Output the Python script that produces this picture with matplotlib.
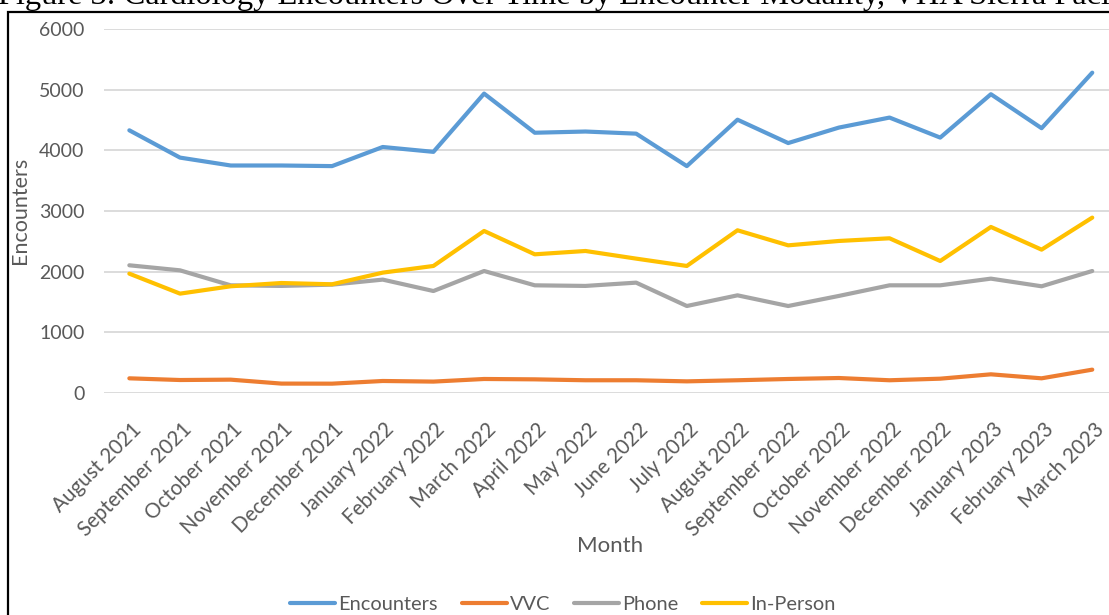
import matplotlib
matplotlib.use("Agg")
import matplotlib.pyplot as plt
from matplotlib.patches import Rectangle
from matplotlib.transforms import ScaledTranslation

# monthly encounter counts
months = ['August 2021', 'September 2021', 'October 2021', 'November 2021',
          'December 2021', 'January 2022', 'February 2022', 'March 2022',
          'April 2022', 'May 2022', 'June 2022', 'July 2022', 'August 2022',
          'September 2022', 'October 2022', 'November 2022', 'December 2022',
          'January 2023', 'February 2023', 'March 2023']
encounters = [4330, 3880, 3750, 3750, 3740, 4055, 3975, 4935, 4290, 4310,
              4275, 3740, 4505, 4120, 4375, 4540, 4210, 4925, 4365, 5280]
vvc = [242, 214, 220, 155, 154, 198, 188, 231, 225, 210,
       210, 192, 210, 231, 247, 210, 236, 308, 242, 385]
phone = [2105, 2022, 1775, 1765, 1786, 1869, 1681, 2011, 1775, 1765,
         1819, 1434, 1610, 1434, 1600, 1775, 1775, 1885, 1759, 2011]
in_person = [1967, 1638, 1759, 1813, 1792, 1984, 2094, 2671, 2286, 2341,
             2215, 2094, 2682, 2434, 2506, 2550, 2176, 2737, 2363, 2891]

series = [encounters, vvc, phone, in_person]
names = ['Encounters', 'VVC', 'Phone', 'In-Person']
colors = ['#5B9BD5', '#ED7D31', '#A5A5A5', '#FFC000']

txt = '#595959'
W, H = 1109, 615
plt.rcParams['font.family'] = ['Lato', 'DejaVu Sans']

fig = plt.figure(figsize=(W / 100, H / 100), dpi=100)
ax = fig.add_axes([104 / W, 222 / H, 1013.6 / W, 364 / H])

x = list(range(len(months)))
for vals, name, col in zip(series, names, colors):
    ax.plot(x, vals, color=col, lw=3.0, label=name, solid_capstyle='round',
            solid_joinstyle='round')

ax.set_xlim(-0.5, len(months) - 0.5)
ax.set_ylim(0, 6000)
ax.set_yticks(range(0, 6001, 1000))
ax.grid(axis='y', color='#D9D9D9', lw=1.3)
ax.set_axisbelow(True)
for s in ax.spines.values():
    s.set_visible(False)
ax.tick_params(axis='both', length=0, labelcolor=txt, labelsize=14)
ax.tick_params(axis='y', pad=14)
ax.tick_params(axis='x', pad=19, labelsize=14.8)
ax.set_xticks(x)
ax.set_xticklabels(months, rotation=45, ha='right', rotation_mode='anchor')
# nudge month labels slightly right, like the original
shift = ScaledTranslation(1.5 / 100, 0, fig.dpi_scale_trans)
for lab in ax.get_xticklabels():
    lab.set_transform(lab.get_transform() + shift)

fig.text(20 / W, 1 - 210 / H, 'Encounters', rotation=90, ha='center',
         va='center', color=txt, fontsize=15.5)
fig.text(610 / W, 1 - 546 / H, 'Month', ha='center', va='center',
         color=txt, fontsize=16)

fig.legend(loc='center', bbox_to_anchor=(563 / W, 1 - 604 / H), ncol=4,
           frameon=False, fontsize=14.4, handlelength=2.25, handletextpad=0.15,
           columnspacing=1.2, labelcolor=txt)

# cropped caption above the chart and the outer frame
fig.text(-2 / W, 1 - 4 / H,
         'Figure 3: Cardiology Encounters Over Time by Encounter Modality, VHA Sierra Pacific',
         fontfamily='Liberation Serif', fontsize=23.3, va='baseline', ha='left')
fig.add_artist(Rectangle((8 / W, -0.1), 1.2, 1.1 - 11.5 / H,
                         transform=fig.transFigure, fill=False,
                         ec='black', lw=1.6))

fig.savefig('out.png', dpi=100)
